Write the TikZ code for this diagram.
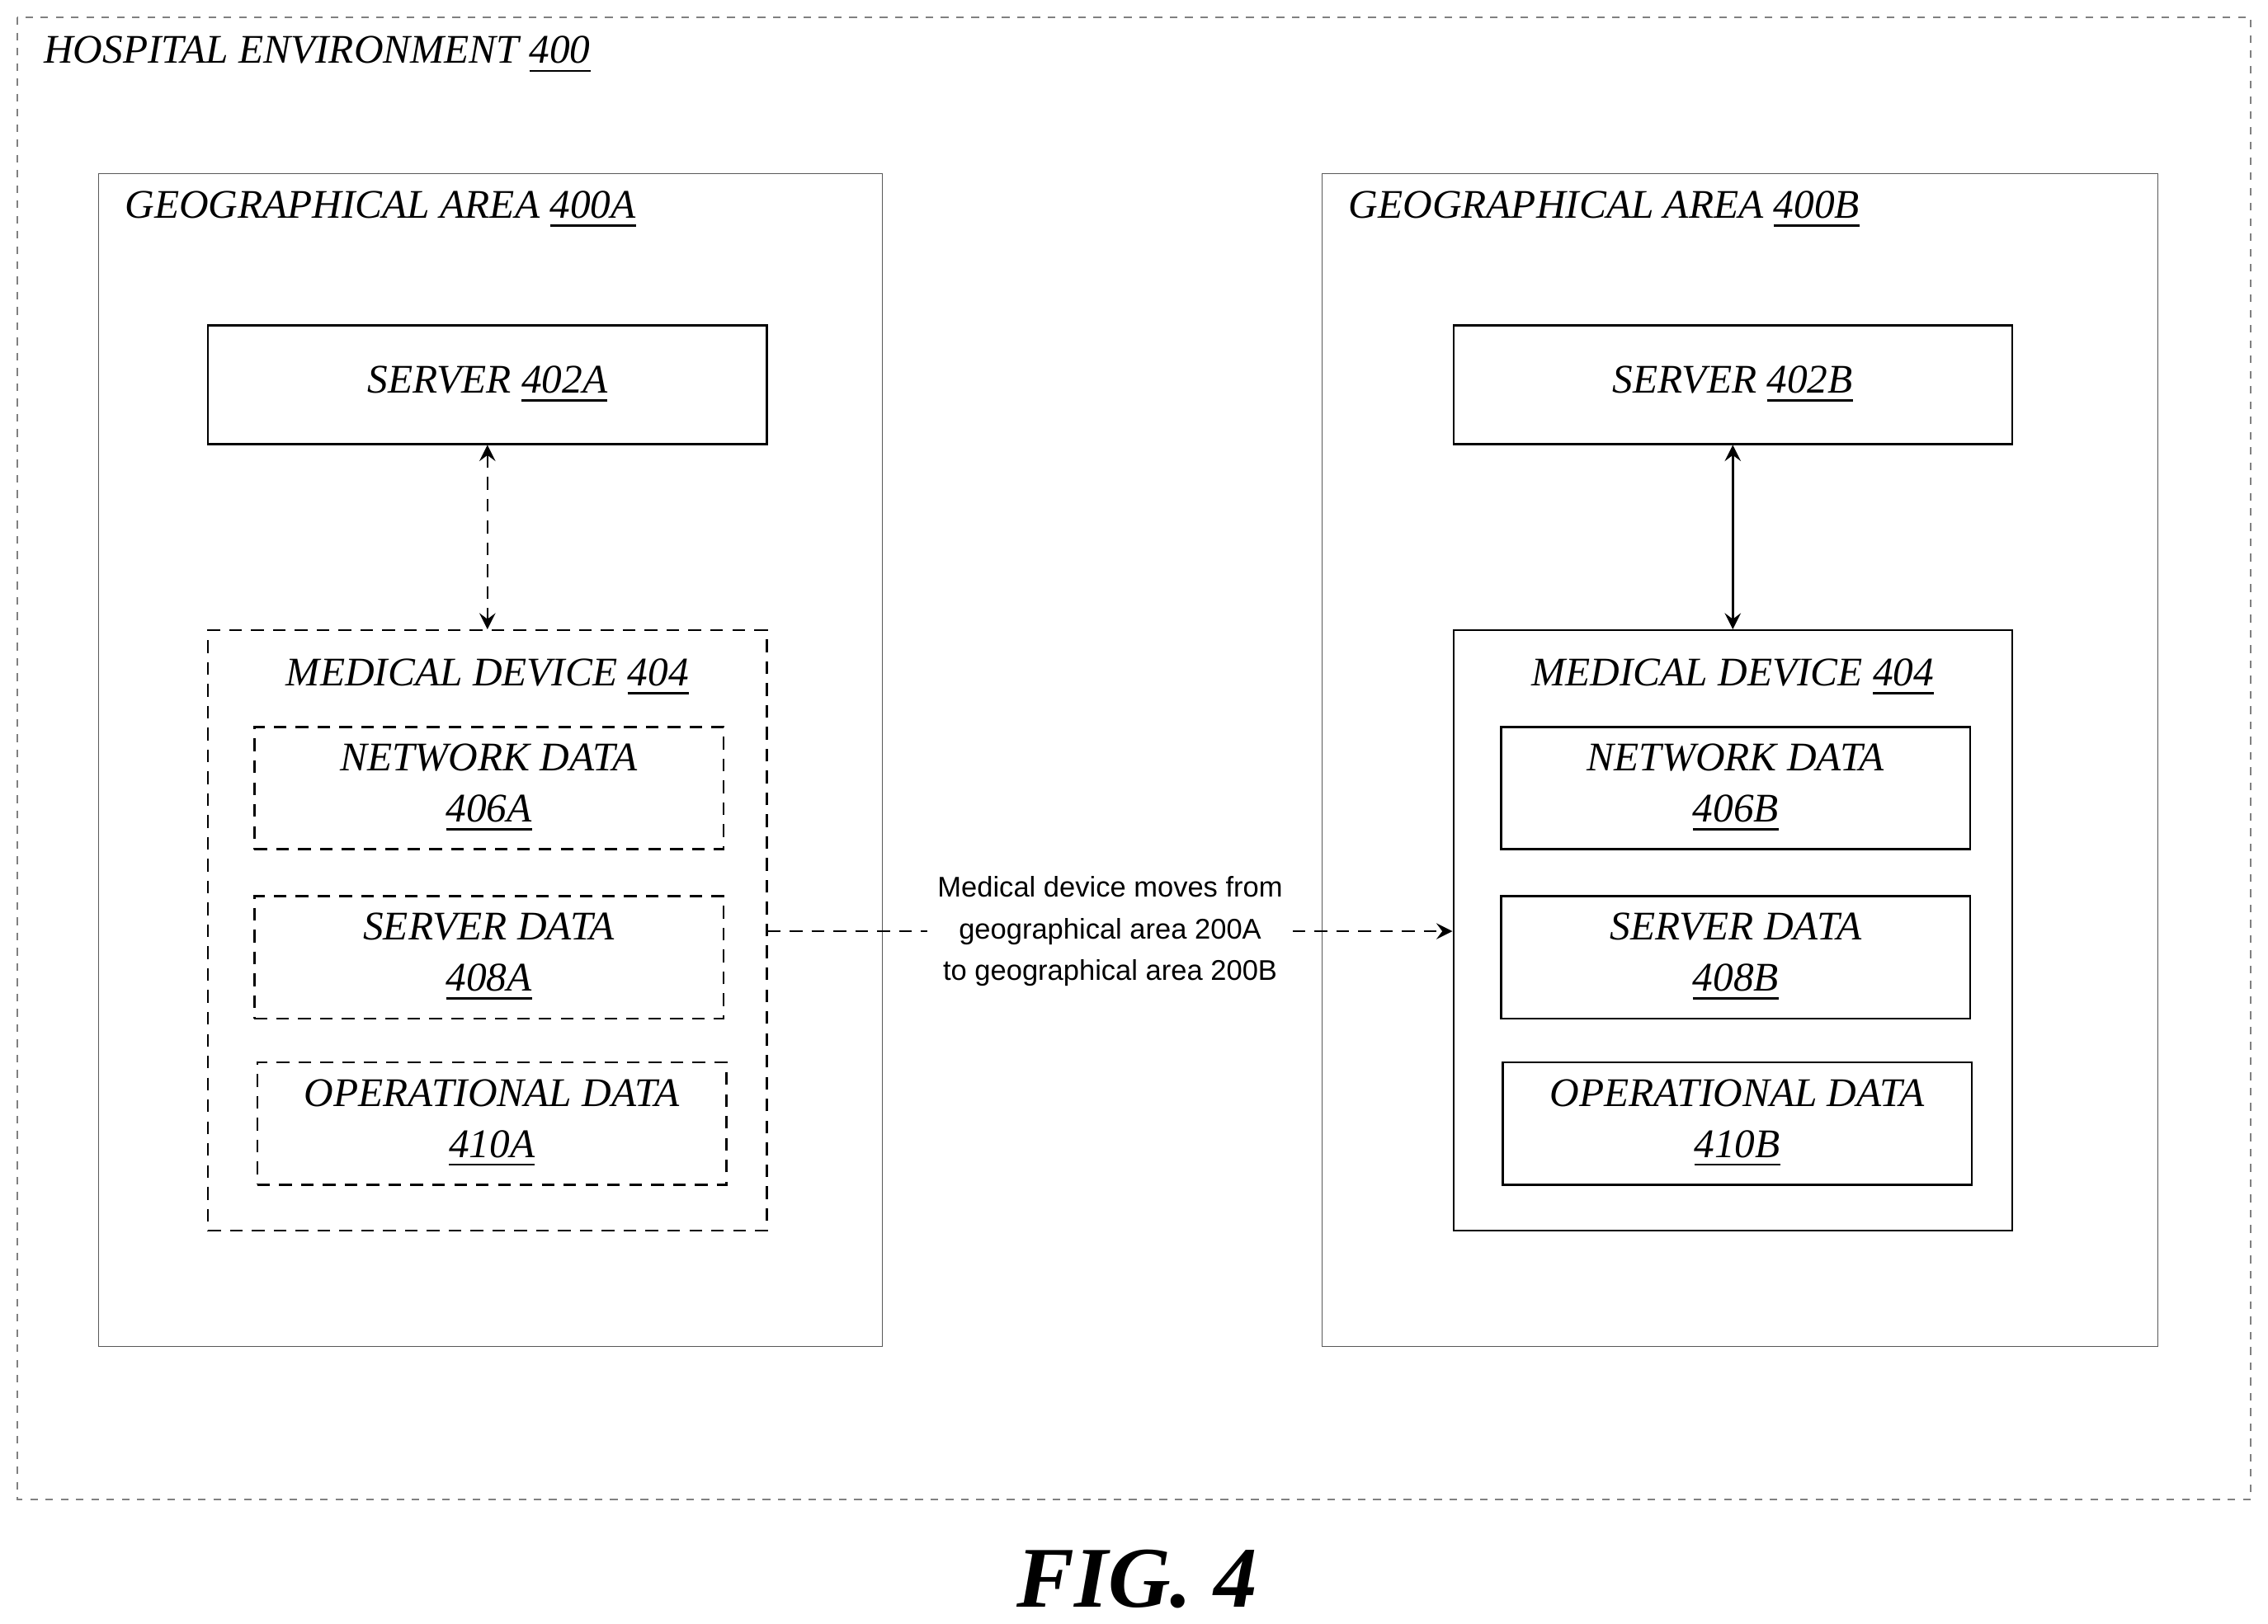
\documentclass[tikz,border=0pt]{standalone}
\usepackage{fontspec}
\setmainfont{Liberation Serif}
\newfontfamily\labelfont{Liberation Sans}
\usetikzlibrary{positioning}
\tikzset{
  box/.style={draw,thin,minimum width=3.86cm,minimum height=0.82cm,align=center,font=\fontsize{8}{10}\selectfont\itshape},
  databox/.style={box,minimum width=3.24cm},
  area/.style={draw,gray!70!black,very thin},
  dashedbox/.style={dash pattern=on 2.5pt off 1.8pt},
  title/.style={anchor=west,font=\fontsize{8}{10}\selectfont\itshape},
}
\begin{document}
\begin{tikzpicture}[x=0.01cm,y=-0.01cm,>=stealth]
\useasboundingbox (0,0) rectangle (1568,1123);
% environment
\draw[gray,very thin,dash pattern=on 1.5pt off 1.5pt] (12,12) rectangle (1556,1037);
\node[title] (envtitle) at (18,38) {HOSPITAL ENVIRONMENT \underline{400}};
% area A
\draw[area] (68,120) rectangle (610,931);
\node[title] (areaAtitle) at (74,145) {GEOGRAPHICAL AREA \underline{400A}};
\node[box] (serverA) at (337,266) {SERVER \underline{402A}};
\node[box,dashedbox,minimum height=4.15cm] (devA) at (337,643.5) {};
\node[font=\fontsize{8}{10}\selectfont\itshape,below=0.08cm of devA.north] {MEDICAL DEVICE \underline{404}};
\node[databox,dashedbox] (netA) at (338,545) {NETWORK DATA\\\underline{406A}};
\node[databox,dashedbox] (srvA) at (338,662) {SERVER DATA\\\underline{408A}};
\node[databox,dashedbox] (opA) at (340,777) {OPERATIONAL DATA\\\underline{410A}};
\draw[<->,dashedbox] (serverA) -- (devA);
% area B
\draw[area] (914,120) rectangle (1492,931);
\node[title] (areaBtitle) at (920,145) {GEOGRAPHICAL AREA \underline{400B}};
\node[box] (serverB) at (1198,266) {SERVER \underline{402B}};
\node[box,minimum height=4.15cm] (devB) at (1198,643.5) {};
\node[font=\fontsize{8}{10}\selectfont\itshape,below=0.08cm of devB.north] {MEDICAL DEVICE \underline{404}};
\node[databox] (netB) at (1200,545) {NETWORK DATA\\\underline{406B}};
\node[databox] (srvB) at (1200,662) {SERVER DATA\\\underline{408B}};
\node[databox] (opB) at (1201,777) {OPERATIONAL DATA\\\underline{410B}};
\draw[<->] (serverB) -- (devB);
% move
\draw[->,dashedbox] (devA.east |- 0,644) -- node[fill=white,align=center,inner sep=2pt,font=\labelfont\fontsize{5.6}{8.2}\selectfont] (movelabel) {Medical device moves from\\geographical area 200A\\to geographical area 200B} (devB.west |- 0,644);
\node[font=\fontsize{17}{19}\selectfont\bfseries\itshape] (fig) at (786,1092) {FIG. 4};
\end{tikzpicture}
\end{document}
